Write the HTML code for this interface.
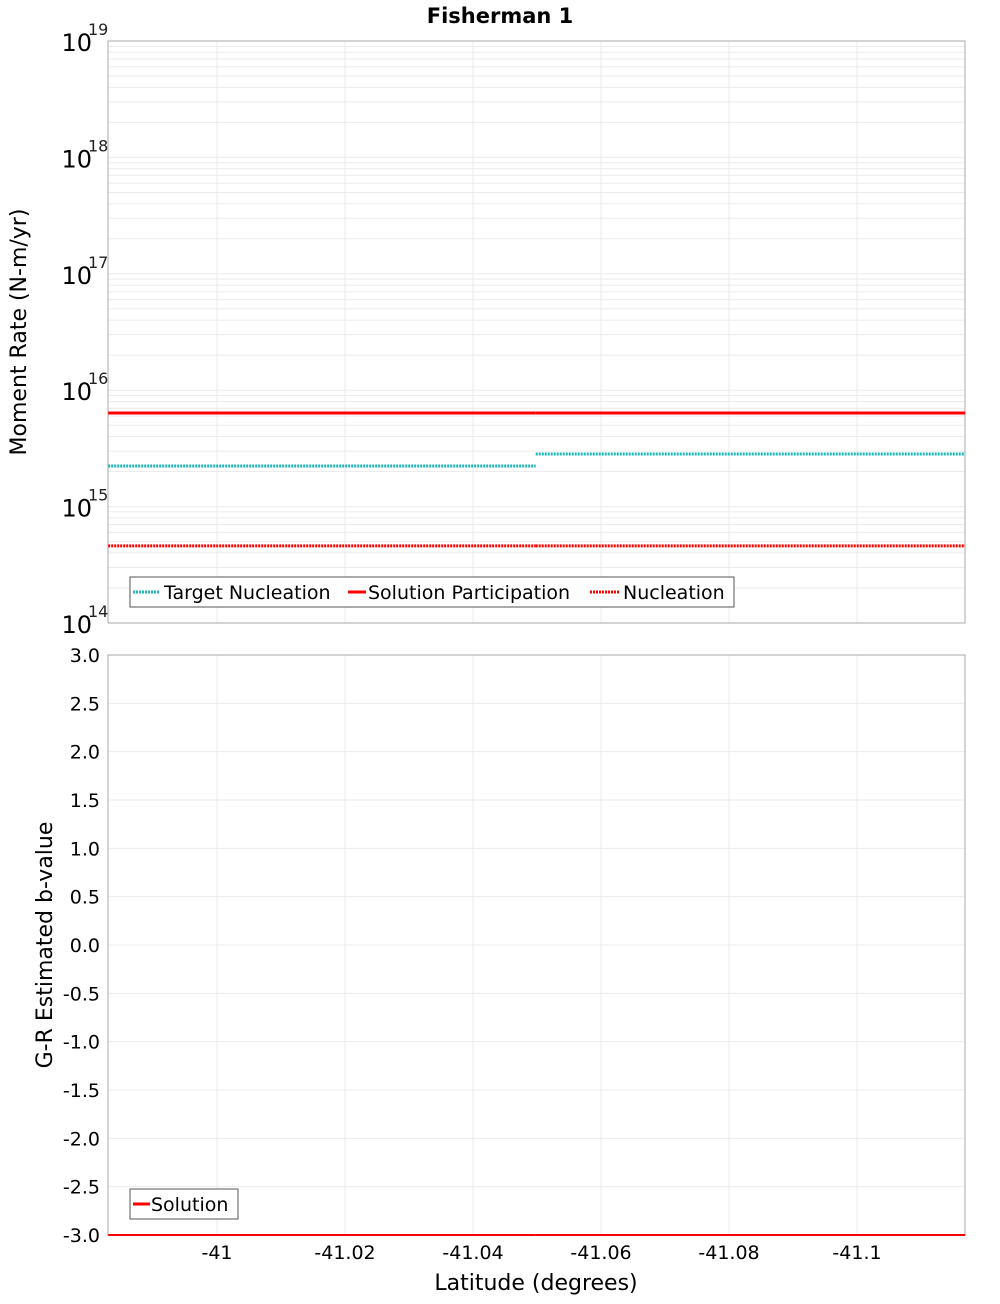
<!DOCTYPE html>
<html><head><meta charset="utf-8"><style>
body{margin:0;background:#fff;font-family:"DejaVu Sans","Liberation Sans",sans-serif}
svg text{font-family:"DejaVu Sans","Liberation Sans",sans-serif}
</style></head><body>
<svg id="chart" width="1000" height="1300" xmlns="http://www.w3.org/2000/svg">
<text x="500" y="23" text-anchor="middle" font-size="21" font-weight="bold">Fisherman 1</text>
<g id="topPanel"></g>
<g id="botPanel"></g>
</svg>
<script>
const xTicks=[-41,-41.02,-41.04,-41.06,-41.08,-41.1];
const xTickLabels=["-41","-41.02","-41.04","-41.06","-41.08","-41.1"];
const segStarts=[-40.983,-41.0498];
const segEnds=[-41.0498,-41.1169];
const targetNucleation=[2.23e15,2.83e15];
const solutionParticipation=[6.37e15,6.37e15];
const nucleation=[4.6e14,4.6e14];
const bValues=[-3,-3];
const yLogTicks=[14,15,16,17,18,19];
const bTicks=[-3,-2.5,-2,-1.5,-1,-0.5,0,0.5,1,1.5,2,2.5,3];

const NS="http://www.w3.org/2000/svg";
const L=108,R=965;
const xs=v=>217+(v-(-41))/(-0.02)*128;
const yTop=v=>623-(Math.log10(v)-14)*116.4;
const yBot=v=>1235-(v+3)/6*580;
function el(p,t,a,txt){const e=document.createElementNS(NS,t);for(const k in a)e.setAttribute(k,a[k]);if(txt!==undefined)e.textContent=txt;p.appendChild(e);return e;}
const topG=document.getElementById('topPanel'),botG=document.getElementById('botPanel');

for(let d=14;d<19;d++)for(let m=1;m<10;m++){const y=yTop(m*Math.pow(10,d));
 const g=el(topG,'line',{x1:L,x2:R,y1:y,y2:y,stroke:'#ebebeb','stroke-width':1});
 
 }
xTicks.forEach(v=>{const g=el(topG,'line',{x1:xs(v),x2:xs(v),y1:41,y2:623,stroke:'#ebebeb'});
 
 });
yLogTicks.forEach(d=>{const y=yTop(Math.pow(10,d));
 const t=el(topG,'text',{x:92,y:y+10,'text-anchor':'end','font-size':24});
 
 
 t.textContent='10';
 const s=el(topG,'text',{x:88,y:y-6,'font-size':16,'fill':'#222'},String(d));
 
 });
let r=el(topG,'rect',{x:L,y:41,width:R-L,height:582,fill:'none',stroke:'#aaa'});


let yt=el(topG,'text',{transform:'translate(26,332) rotate(-90)','text-anchor':'middle','font-size':22},'Moment Rate (N-m/yr)');



function series(p,arr,yf,color,dash,name,w){arr.forEach((v,i)=>{
 const l=el(p,'line',{x1:xs(segStarts[i]),x2:xs(segEnds[i]),y1:yf(v),y2:yf(v),stroke:color,'stroke-width':w});
 if(dash)l.setAttribute('stroke-dasharray',dash);
 
 });}
series(topG,targetNucleation,yTop,'#1fb5b5','2 1','target-nucleation-line',3);
series(topG,solutionParticipation,yTop,'#ff0000',null,'solution-participation-line',3);
series(topG,nucleation,yTop,'#ff0000','2 1','nucleation-line',3);

let lg=el(topG,'g',{});


el(lg,'rect',{x:130,y:577,width:604,height:30,fill:'#fff',stroke:'#555'});
el(lg,'line',{x1:133,x2:160,y1:592,y2:592,stroke:'#1fb5b5','stroke-width':3,'stroke-dasharray':'2 1'});
el(lg,'text',{x:164,y:599,'font-size':19},'Target Nucleation');
el(lg,'line',{x1:348,x2:366,y1:592,y2:592,stroke:'#f00','stroke-width':3});
el(lg,'text',{x:368,y:599,'font-size':19},'Solution Participation');
el(lg,'line',{x1:590,x2:620,y1:592,y2:592,stroke:'#f00','stroke-width':3,'stroke-dasharray':'2 1'});
el(lg,'text',{x:623,y:599,'font-size':19},'Nucleation');

bTicks.forEach(v=>{const y=yBot(v);
 const g=el(botG,'line',{x1:L,x2:R,y1:y,y2:y,stroke:'#ebebeb'});
 
 
 const t=el(botG,'text',{x:100,y:y+7,'text-anchor':'end','font-size':19},v.toFixed(1));
 
 });
xTicks.forEach((v,i)=>{const g=el(botG,'line',{x1:xs(v),x2:xs(v),y1:655,y2:1235,stroke:'#ebebeb'});
 
 
 const t=el(botG,'text',{x:xs(v),y:1259,'text-anchor':'middle','font-size':19},xTickLabels[i]);
 
 });
r=el(botG,'rect',{x:L,y:655,width:R-L,height:580,fill:'none',stroke:'#aaa'});


series(botG,bValues,yBot,'#ff0000',null,'solution-b-value-line',2);
yt=el(botG,'text',{transform:'translate(52,945) rotate(-90)','text-anchor':'middle','font-size':22},'G-R Estimated b-value');


let xt=el(botG,'text',{x:536,y:1290,'text-anchor':'middle','font-size':22},'Latitude (degrees)');


lg=el(botG,'g',{});


el(lg,'rect',{x:130,y:1189,width:108,height:30,fill:'#fff',stroke:'#555'});
el(lg,'line',{x1:133,x2:150,y1:1204,y2:1204,stroke:'#f00','stroke-width':3});
el(lg,'text',{x:151,y:1211,'font-size':19},'Solution');
</script>
</body></html>
